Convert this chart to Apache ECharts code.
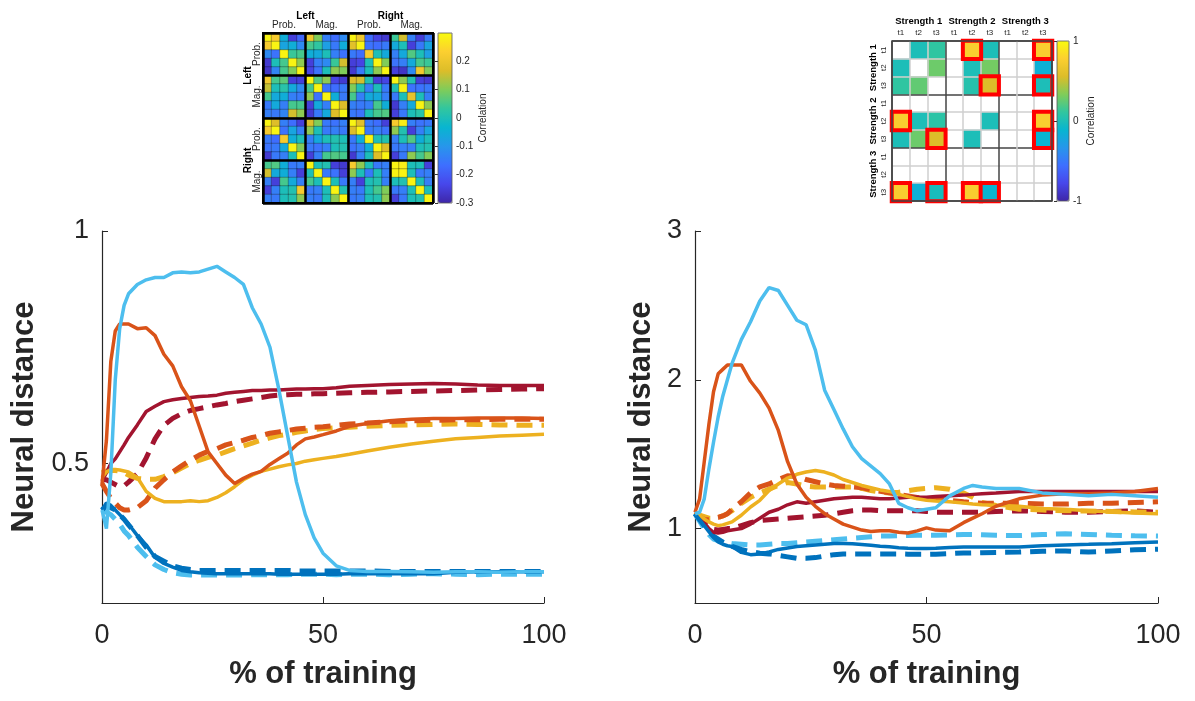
<!DOCTYPE html>
<html>
<head>
<meta charset="utf-8">
<title>Neural distance</title>
<script src="https://cdn.jsdelivr.net/npm/echarts@6/dist/echarts.min.js"></script>
<style>
html,body{margin:0;padding:0;background:#fff;}
#main{width:1195px;height:701px;}
</style>
</head>
<body>
<div id="main"></div>
<script>
// ---------- data ----------
// left curve panel (x = % of training)
var xsLeft = [0,1,2,3,4,5,6, 8,10,12,14,16,18,20,22,24,26,28,30,32,34,36,38,40,42,44,46,48,50, 53,56,60,65,70,75,80,85,90,95,100];
var lbSolidL = [0.40,0.36,0.48,0.68,0.79,0.84,0.865, 0.885,0.895,0.90,0.90,0.91,0.912,0.91,0.912,0.918,0.924,0.912,0.90,0.885,0.835,0.80,0.75,0.66,0.56,0.46,0.39,0.34,0.307, 0.28,0.27,0.268,0.268,0.267,0.266,0.267,0.267,0.266,0.267,0.267];
var lbDashL = [0.40,0.395,0.39,0.38,0.37,0.355,0.345, 0.32,0.30,0.282,0.272,0.265,0.262,0.26,0.26,0.26,0.26,0.26,0.26,0.26,0.261,0.261,0.261,0.261,0.261,0.262,0.262,0.262,0.262, 0.261,0.262,0.262,0.261,0.262,0.263,0.262,0.261,0.262,0.262,0.262];
var dbSolidL = [0.40,0.415,0.41,0.40,0.39,0.38,0.37, 0.345,0.325,0.298,0.285,0.277,0.27,0.267,0.265,0.264,0.263,0.263,0.263,0.263,0.263,0.263,0.263,0.262,0.262,0.262,0.262,0.262,0.262, 0.262,0.263,0.263,0.263,0.263,0.263,0.266,0.267,0.267,0.267,0.267];
var dbDashL = [0.40,0.41,0.405,0.40,0.39,0.38,0.368, 0.345,0.32,0.30,0.29,0.28,0.275,0.272,0.27,0.27,0.27,0.27,0.27,0.27,0.27,0.27,0.27,0.27,0.27,0.269,0.269,0.269,0.269, 0.269,0.269,0.269,0.268,0.268,0.268,0.268,0.268,0.268,0.268,0.268];
var orSolidL = [0.455,0.55,0.72,0.785,0.80,0.80,0.80, 0.79,0.792,0.775,0.735,0.71,0.665,0.635,0.58,0.525,0.50,0.475,0.457,0.468,0.477,0.483,0.498,0.51,0.522,0.54,0.553,0.557,0.562, 0.57,0.58,0.586,0.592,0.595,0.597,0.597,0.598,0.598,0.598,0.597];
var orDashL = [0.457,0.44,0.425,0.415,0.405,0.40,0.40, 0.405,0.42,0.447,0.465,0.482,0.495,0.507,0.518,0.526,0.532,0.54,0.545,0.55,0.556,0.56,0.565,0.568,0.571,0.574,0.576,0.578,0.579, 0.582,0.585,0.587,0.59,0.592,0.593,0.594,0.594,0.595,0.595,0.595];
var ylSolidL = [0.47,0.482,0.487,0.487,0.486,0.484,0.482, 0.47,0.44,0.425,0.418,0.418,0.418,0.42,0.418,0.42,0.427,0.437,0.45,0.465,0.475,0.483,0.488,0.493,0.497,0.50,0.505,0.508,0.511, 0.515,0.52,0.527,0.535,0.542,0.548,0.553,0.556,0.559,0.561,0.563];
var ylDashL = [0.48,0.484,0.485,0.485,0.484,0.48,0.475, 0.468,0.466,0.466,0.472,0.48,0.49,0.50,0.507,0.513,0.518,0.525,0.532,0.538,0.544,0.55,0.555,0.56,0.563,0.567,0.57,0.573,0.575, 0.577,0.578,0.58,0.582,0.583,0.584,0.585,0.584,0.583,0.582,0.582];
var drSolidL = [0.462,0.48,0.50,0.51,0.525,0.54,0.556, 0.583,0.612,0.623,0.633,0.637,0.64,0.642,0.644,0.645,0.647,0.651,0.653,0.655,0.657,0.657,0.658,0.658,0.659,0.66,0.66,0.661,0.661, 0.663,0.666,0.668,0.67,0.671,0.672,0.671,0.669,0.668,0.668,0.668];
var drDashL = [0.465,0.465,0.46,0.455,0.45,0.452,0.46, 0.478,0.512,0.553,0.582,0.597,0.607,0.614,0.618,0.622,0.626,0.629,0.633,0.636,0.639,0.642,0.645,0.647,0.648,0.649,0.649,0.65,0.65, 0.651,0.652,0.653,0.654,0.655,0.656,0.657,0.658,0.659,0.66,0.661];

// right curve panel
var xsRight = [0,1,2,3,4,5,6,7,8, 10,12,14,16,18,20,22,24,26,28,30,32,34,36,38,40,42,44,46,48,50,52, 55,58,60,62,65,70,75,80,85,90,95,100];
var lbSolidR = [1.10,1.11,1.20,1.40,1.58,1.75,1.89,2.00,2.11, 2.27,2.39,2.53,2.62,2.60,2.50,2.40,2.37,2.20,1.93,1.80,1.67,1.55,1.47,1.42,1.37,1.30,1.17,1.14,1.12,1.13,1.14, 1.22,1.27,1.29,1.28,1.27,1.27,1.24,1.23,1.22,1.23,1.22,1.21];
var lbDashR = [1.10,1.05,1.0,0.96,0.93,0.92,0.91,0.905,0.90, 0.895,0.89,0.89,0.895,0.90,0.90,0.905,0.91,0.915,0.92,0.925,0.93,0.935,0.94,0.945,0.95,0.95,0.952,0.953,0.955,0.955,0.955, 0.957,0.96,0.96,0.958,0.955,0.953,0.96,0.965,0.96,0.955,0.952,0.95];
var dbSolidR = [1.10,1.06,1.02,0.98,0.94,0.91,0.895,0.885,0.88, 0.84,0.825,0.83,0.843,0.86,0.87,0.88,0.885,0.89,0.895,0.90,0.90,0.898,0.893,0.888,0.882,0.878,0.872,0.868,0.866,0.866,0.868, 0.873,0.876,0.877,0.877,0.877,0.877,0.885,0.89,0.894,0.899,0.905,0.91];
var dbDashR = [1.10,1.06,1.02,0.98,0.95,0.93,0.91,0.895,0.88, 0.86,0.845,0.835,0.83,0.82,0.81,0.80,0.80,0.805,0.815,0.825,0.83,0.83,0.83,0.83,0.83,0.83,0.83,0.828,0.827,0.827,0.828, 0.832,0.836,0.837,0.838,0.84,0.842,0.848,0.85,0.842,0.85,0.858,0.862];
var orSolidR = [1.11,1.20,1.45,1.70,1.92,2.04,2.07,2.10,2.10, 2.10,1.99,1.91,1.81,1.66,1.45,1.30,1.21,1.15,1.10,1.065,1.03,1.01,0.99,0.98,0.985,0.985,0.975,0.97,0.985,1.005,0.99, 0.985,1.04,1.07,1.10,1.15,1.20,1.225,1.235,1.235,1.24,1.25,1.27];
var orDashR = [1.10,1.08,1.06,1.06,1.07,1.075,1.085,1.10,1.13, 1.18,1.24,1.28,1.30,1.33,1.355,1.35,1.33,1.315,1.30,1.29,1.285,1.28,1.275,1.26,1.25,1.24,1.23,1.22,1.21,1.20,1.195, 1.19,1.18,1.175,1.17,1.17,1.17,1.165,1.165,1.17,1.17,1.175,1.18];
var ylSolidR = [1.11,1.09,1.065,1.045,1.03,1.02,1.025,1.035,1.045, 1.09,1.145,1.19,1.255,1.30,1.34,1.365,1.38,1.39,1.38,1.36,1.33,1.31,1.29,1.275,1.26,1.25,1.23,1.215,1.20,1.19,1.185, 1.18,1.172,1.165,1.16,1.157,1.15,1.135,1.13,1.12,1.112,1.105,1.10];
var ylDashR = [1.10,1.09,1.08,1.07,1.07,1.075,1.085,1.10,1.12, 1.17,1.21,1.24,1.265,1.29,1.31,1.30,1.285,1.28,1.28,1.28,1.28,1.28,1.27,1.255,1.245,1.24,1.245,1.255,1.265,1.27,1.275, 1.265,1.24,1.21,1.175,1.155,1.13,1.125,1.12,1.118,1.115,1.112,1.11];
var drSolidR = [1.11,1.08,1.04,1.00,0.975,0.97,0.975,0.985,0.99, 1.00,1.03,1.07,1.11,1.13,1.16,1.18,1.17,1.18,1.19,1.20,1.205,1.21,1.21,1.205,1.20,1.20,1.205,1.21,1.21,1.21,1.215, 1.22,1.225,1.23,1.235,1.24,1.25,1.25,1.25,1.25,1.25,1.25,1.25];
var drDashR = [1.10,1.07,1.04,1.01,0.995,0.99,0.995,1.0,1.0, 1.02,1.04,1.055,1.06,1.065,1.07,1.075,1.08,1.085,1.09,1.10,1.11,1.12,1.125,1.125,1.12,1.12,1.12,1.12,1.12,1.115,1.11, 1.11,1.11,1.11,1.11,1.115,1.12,1.115,1.11,1.11,1.115,1.12,1.11];

// left correlation matrix (Left/Right x Prob./Mag., 5 units each)
var corrMatrix = [
  [0.29,0.22,-0.05,-0.25,-0.18, 0.21,0.10,-0.14,-0.17,-0.12, 0.29,0.21,-0.17,-0.24,-0.26, 0.04,0.16,-0.14,-0.25,-0.15],
  [0.22,0.29,-0.07,-0.05,-0.12, 0.05,0.03,-0.08,-0.15,-0.05, 0.18,0.29,-0.16,-0.17,-0.15, -0.06,0.0,-0.25,-0.15,-0.07],
  [-0.12,-0.16,0.29,0.04,0.05, -0.05,-0.06,0.0,-0.14,-0.16, -0.15,-0.17,0.22,0.0,-0.06, -0.14,-0.06,0.06,0.0,-0.08],
  [-0.26,0.0,0.05,0.29,0.11, -0.25,-0.14,-0.12,0.04,0.16, -0.25,-0.24,0.0,0.29,0.10, -0.16,-0.14,-0.06,0.05,0.04],
  [-0.27,-0.13,0.05,0.10,0.29, -0.24,-0.16,0.0,0.11,0.10, -0.26,-0.15,0.0,0.11,0.29, -0.25,-0.27,-0.12,0.21,0.10],
  [0.21,0.05,0.07,-0.25,-0.25, 0.29,0.06,0.11,-0.24,-0.26, 0.17,0.16,0.01,-0.25,-0.24, 0.29,0.11,0.01,-0.25,-0.26],
  [0.15,0.0,0.02,-0.06,-0.12, 0.05,0.29,-0.16,-0.17,-0.15, 0.10,0.01,-0.14,0.0,-0.15, 0.01,0.29,-0.16,-0.16,-0.15],
  [0.05,-0.06,-0.05,-0.14,-0.15, 0.11,-0.16,0.29,-0.05,-0.15, 0.05,-0.14,-0.06,-0.06,-0.14, -0.15,0.0,0.19,0.0,-0.14],
  [-0.15,-0.06,-0.14,0.05,0.05, -0.25,-0.06,-0.14,0.29,0.17, -0.14,-0.15,-0.14,0.05,-0.05, -0.26,-0.14,-0.06,0.29,0.11],
  [-0.14,-0.15,-0.13,0.16,0.11, -0.26,-0.15,-0.06,0.17,0.29, -0.15,-0.16,0.0,0.05,0.06, -0.25,-0.15,0.0,0.02,0.29],
  [0.29,0.17,-0.14,-0.17,-0.25, 0.17,0.10,-0.15,-0.16,-0.14, 0.29,0.18,-0.15,-0.17,-0.25, 0.22,0.28,-0.14,-0.16,-0.15],
  [0.22,0.29,-0.16,-0.07,-0.14, 0.11,0.0,-0.15,-0.14,-0.15, 0.17,0.29,-0.15,-0.14,-0.16, 0.11,0.01,-0.25,-0.14,-0.07],
  [-0.15,-0.17,0.22,-0.05,0.0, -0.14,-0.06,0.0,0.01,0.0, -0.15,-0.05,0.29,0.0,0.01, -0.14,0.0,0.06,-0.05,0.0],
  [-0.16,-0.15,-0.06,0.29,0.10, -0.15,-0.16,-0.14,0.0,0.01, -0.16,-0.14,-0.05,0.29,0.17, -0.15,-0.14,-0.14,0.0,0.01],
  [-0.26,-0.15,-0.14,0.0,0.29, -0.25,-0.14,0.05,0.06,0.05, -0.26,-0.14,0.0,0.17,0.29, -0.25,-0.15,0.11,0.05,0.10],
  [0.05,0.06,-0.05,-0.15,-0.14, 0.29,0.0,0.01,-0.25,-0.26, 0.22,0.11,0.0,-0.15,-0.14, 0.29,0.28,0.0,0.0,-0.25],
  [0.16,-0.06,-0.05,-0.14,-0.25, 0.0,0.29,-0.15,-0.16,-0.25, 0.11,0.0,-0.15,0.0,-0.14, 0.29,0.29,0.0,-0.15,-0.14],
  [-0.14,-0.25,0.05,-0.06,-0.14, 0.05,0.0,0.29,0.0,-0.15, -0.14,-0.25,0.0,0.01,-0.14, 0.0,0.01,0.29,0.0,-0.14],
  [-0.25,-0.14,0.0,0.01,0.22, -0.15,-0.14,0.0,0.29,0.01, -0.14,-0.15,0.0,0.05,0.10, -0.15,-0.14,0.0,0.29,0.0],
  [-0.14,-0.15,0.0,0.01,0.11, -0.14,-0.15,0.0,0.11,0.29, -0.15,-0.14,0.0,0.01,0.11, -0.25,-0.15,0.0,0.01,0.29]
];
var corrCats = ['1','2','3','4','5','6','7','8','9','10','11','12','13','14','15','16','17','18','19','20'];
var corrTicks = [-0.3, -0.2, -0.1, 0, 0.1, 0.2];

// right correlation matrix (Strength 1-3 x t1-t3), null = not shown
var strengthMatrix = [
  [null, 0.0, 0.1, null, 0.76, 0.0, null, null, 0.76],
  [0.0, null, 0.28, null, 0.0, 0.3, null, null, -0.15],
  [0.1, 0.25, null, null, 0.05, 0.56, null, null, 0.0],
  [null, null, null, null, null, null, null, null, null],
  [0.76, 0.0, 0.08, null, null, 0.0, null, null, 0.76],
  [0.0, 0.28, 0.56, null, 0.0, null, null, null, -0.12],
  [null, null, null, null, null, null, null, null, null],
  [null, null, null, null, null, null, null, null, null],
  [0.76, -0.15, -0.02, null, 0.76, -0.12, null, null, null]
];
// highlighted cells [row, col]
var strengthBoxes = [[0,4],[0,8],[2,5],[2,8],[4,0],[4,8],[5,2],[5,8],[8,0],[8,2],[8,4],[8,5]];
var tCats = ['t1','t2','t3','t1','t2','t3','t1','t2','t3'];
var strengthTicks = [-1, 0, 1];

var parula = ['#3E26A8','#4747EB','#3E6FFF','#2796EB','#08B5D0','#31C69F','#80CC59','#DCBD29','#FCCF30','#F9FB0E'];

// ---------- build ----------
var FONT = "'Liberation Sans', Arial, Helvetica, sans-serif";
var TXT = '#262626';
var C_LB = '#4DBEEE', C_DB = '#0072BD', C_OR = '#D95319', C_YL = '#EDB120', C_DR = '#A2142F';

function pairs(xs, ys) {
    return xs.map(function(x, i) { return [x, ys[i]]; });
}

var corrData = [];
corrMatrix.forEach(function(row, r) {
    row.forEach(function(v, c) { corrData.push([c, r, v]); });
});
var strengthData = [];
strengthMatrix.forEach(function(row, r) {
    row.forEach(function(v, c) { if (v !== null) strengthData.push([c, r, v]); });
});
var boxData = strengthBoxes.map(function(b) { return [b[1], b[0], strengthMatrix[b[0]][b[1]]]; });

function curve(name, xs, ys, color, dashed, g) {
    return {
        name: name, type: 'line', xAxisIndex: g, yAxisIndex: g,
        data: pairs(xs, ys), showSymbol: false, symbol: 'none', smooth: false,
        silent: true, animation: false,
        lineStyle: dashed ? {color: color, width: 5, type: [16, 9], cap: 'butt'}
                          : {color: color, width: 3.5},
        z: dashed ? 3 : 4
    };
}

function curveX(g) {
    return {
        gridIndex: g, type: 'value', min: 0, max: 100, interval: 50,
        axisLine: {lineStyle: {color: TXT, width: 1.2}},
        axisTick: {inside: true, length: 6, lineStyle: {color: TXT}},
        axisLabel: {fontSize: 27, color: TXT, fontFamily: FONT, margin: 19},
        splitLine: {show: false},
        name: '% of training', nameLocation: 'middle', nameGap: 56,
        nameTextStyle: {fontSize: 31, fontWeight: 'bold', color: TXT, fontFamily: FONT}
    };
}
function curveY(g, min, max, ticks, gap) {
    return {
        gridIndex: g, type: 'value', min: min, max: max,
        axisLine: {show: true, lineStyle: {color: TXT, width: 1.2}},
        axisTick: {show: true, inside: true, length: 6, customValues: ticks, lineStyle: {color: TXT}},
        axisLabel: {fontSize: 27, color: TXT, fontFamily: FONT, margin: 13, customValues: ticks},
        splitLine: {show: false},
        name: 'Neural distance', nameLocation: 'middle', nameGap: gap, nameRotate: 90,
        nameTextStyle: {fontSize: 31, fontWeight: 'bold', color: TXT, fontFamily: FONT}
    };
}

var myChart = echarts.init(document.getElementById('main'));

var option = {
    backgroundColor: '#fff',
    animation: false,
    textStyle: {fontFamily: FONT},
    grid: [
        {left: 263, top: 33, width: 170, height: 170, show: true, borderColor: '#000', borderWidth: 2, z: 10},
        {left: 892, top: 41, width: 160, height: 160, show: true, borderColor: '#444', borderWidth: 1.5, z: 10},
        {left: 438, top: 33, width: 14, height: 170, show: true, borderColor: '#555', borderWidth: 0.8, z: 10},
        {left: 1057, top: 41, width: 12, height: 160, show: true, borderColor: '#555', borderWidth: 0.8, z: 10},
        {left: 102, top: 231, width: 442, height: 372},
        {left: 695, top: 231, width: 463, height: 372}
    ],
    xAxis: [
        {gridIndex: 0, type: 'category', data: corrCats, z: 5,
         axisLine: {show: false}, axisTick: {show: false}, axisLabel: {show: false},
         splitLine: {show: true, interval: function(i) { return i % 5 === 0; }, lineStyle: {color: '#000', width: 2.5}}},
        {gridIndex: 1, type: 'category', data: tCats, position: 'top', z: 3,
         axisLine: {show: false}, axisTick: {show: false},
         axisLabel: {interval: 0, fontSize: 8, color: TXT, margin: 4},
         splitLine: {show: true, interval: 0, lineStyle: {color: ['#444', '#cfcfcf', '#cfcfcf'], width: 1.5}}},
        {gridIndex: 2, type: 'value', show: false, min: 0, max: 1},
        {gridIndex: 3, type: 'value', show: false, min: 0, max: 1},
        curveX(4),
        curveX(5)
    ],
    yAxis: [
        {gridIndex: 0, type: 'category', data: corrCats, inverse: true, z: 5,
         axisLine: {show: false}, axisTick: {show: false}, axisLabel: {show: false},
         splitLine: {show: true, interval: function(i) { return i % 5 === 0; }, lineStyle: {color: '#000', width: 2.5}}},
        {gridIndex: 1, type: 'category', data: tCats, inverse: true, z: 3,
         axisLine: {show: false}, axisTick: {show: false},
         axisLabel: {interval: 0, fontSize: 8, color: TXT, margin: 4, rotate: 90},
         splitLine: {show: true, interval: 0, lineStyle: {color: ['#444', '#cfcfcf', '#cfcfcf'], width: 1.5}}},
        {gridIndex: 2, type: 'value', min: -0.3, max: 0.3, position: 'right',
         axisLine: {show: false},
         axisTick: {show: true, inside: true, length: 3, customValues: corrTicks, lineStyle: {color: '#333'}},
         axisLabel: {fontSize: 10, color: TXT, margin: 4, customValues: corrTicks},
         splitLine: {show: false},
         name: 'Correlation', nameLocation: 'middle', nameRotate: 90, nameGap: 26,
         nameTextStyle: {fontSize: 10, color: TXT}},
        {gridIndex: 3, type: 'value', min: -1, max: 1, position: 'right',
         axisLine: {show: false},
         axisTick: {show: true, inside: true, length: 3, customValues: strengthTicks, lineStyle: {color: '#333'}},
         axisLabel: {fontSize: 10, color: TXT, margin: 4, customValues: strengthTicks},
         splitLine: {show: false},
         name: 'Correlation', nameLocation: 'middle', nameRotate: 90, nameGap: 16,
         nameTextStyle: {fontSize: 10, color: TXT}},
        curveY(4, 0.2, 1, [0.5, 1], 62),
        curveY(5, 0.5, 3, [1, 2, 3], 38)
    ],
    visualMap: [
        {type: 'continuous', seriesIndex: 0, min: -0.3, max: 0.3, calculable: false,
         orient: 'vertical', left: 438, top: 33, itemWidth: 14, itemHeight: 170, padding: 0,
         inRange: {color: parula}, hoverLink: false},
        {type: 'continuous', seriesIndex: [1, 2], min: -1, max: 1, calculable: false,
         orient: 'vertical', left: 1057, top: 41, itemWidth: 12, itemHeight: 160, padding: 0,
         inRange: {color: parula}, hoverLink: false}
    ],
    graphic: [
        {type: 'text', x: 305.5, y: 16, style: {text: 'Left', font: 'bold 10px ' + FONT, fill: '#000', align: 'center', verticalAlign: 'middle'}},
        {type: 'text', x: 390.5, y: 16, style: {text: 'Right', font: 'bold 10px ' + FONT, fill: '#000', align: 'center', verticalAlign: 'middle'}},
        {type: 'text', x: 284, y: 25.5, style: {text: 'Prob.', font: '10px ' + FONT, fill: TXT, align: 'center', verticalAlign: 'middle'}},
        {type: 'text', x: 326.5, y: 25.5, style: {text: 'Mag.', font: '10px ' + FONT, fill: TXT, align: 'center', verticalAlign: 'middle'}},
        {type: 'text', x: 369, y: 25.5, style: {text: 'Prob.', font: '10px ' + FONT, fill: TXT, align: 'center', verticalAlign: 'middle'}},
        {type: 'text', x: 411.5, y: 25.5, style: {text: 'Mag.', font: '10px ' + FONT, fill: TXT, align: 'center', verticalAlign: 'middle'}},
        {type: 'text', x: 248, y: 75.5, rotation: Math.PI / 2, style: {text: 'Left', font: 'bold 10px ' + FONT, fill: '#000', align: 'center', verticalAlign: 'middle'}},
        {type: 'text', x: 248, y: 160.5, rotation: Math.PI / 2, style: {text: 'Right', font: 'bold 10px ' + FONT, fill: '#000', align: 'center', verticalAlign: 'middle'}},
        {type: 'text', x: 257, y: 54, rotation: Math.PI / 2, style: {text: 'Prob.', font: '10px ' + FONT, fill: TXT, align: 'center', verticalAlign: 'middle'}},
        {type: 'text', x: 257, y: 96.5, rotation: Math.PI / 2, style: {text: 'Mag.', font: '10px ' + FONT, fill: TXT, align: 'center', verticalAlign: 'middle'}},
        {type: 'text', x: 257, y: 139, rotation: Math.PI / 2, style: {text: 'Prob.', font: '10px ' + FONT, fill: TXT, align: 'center', verticalAlign: 'middle'}},
        {type: 'text', x: 257, y: 181.5, rotation: Math.PI / 2, style: {text: 'Mag.', font: '10px ' + FONT, fill: TXT, align: 'center', verticalAlign: 'middle'}},
        {type: 'text', x: 918.7, y: 21, style: {text: 'Strength 1', font: 'bold 9.5px ' + FONT, fill: '#000', align: 'center', verticalAlign: 'middle'}},
        {type: 'text', x: 972, y: 21, style: {text: 'Strength 2', font: 'bold 9.5px ' + FONT, fill: '#000', align: 'center', verticalAlign: 'middle'}},
        {type: 'text', x: 1025.3, y: 21, style: {text: 'Strength 3', font: 'bold 9.5px ' + FONT, fill: '#000', align: 'center', verticalAlign: 'middle'}},
        {type: 'text', x: 873, y: 67.7, rotation: Math.PI / 2, style: {text: 'Strength 1', font: 'bold 9.5px ' + FONT, fill: '#000', align: 'center', verticalAlign: 'middle'}},
        {type: 'text', x: 873, y: 121, rotation: Math.PI / 2, style: {text: 'Strength 2', font: 'bold 9.5px ' + FONT, fill: '#000', align: 'center', verticalAlign: 'middle'}},
        {type: 'text', x: 873, y: 174.3, rotation: Math.PI / 2, style: {text: 'Strength 3', font: 'bold 9.5px ' + FONT, fill: '#000', align: 'center', verticalAlign: 'middle'}}
    ],
    series: [
        {type: 'heatmap', xAxisIndex: 0, yAxisIndex: 0, data: corrData, z: 1,
         itemStyle: {borderColor: 'rgba(0,0,0,0.4)', borderWidth: 0.7}},
        {type: 'heatmap', xAxisIndex: 1, yAxisIndex: 1, data: strengthData, z: 1},
        {type: 'heatmap', xAxisIndex: 1, yAxisIndex: 1, data: boxData, z: 6,
         itemStyle: {borderColor: '#ff0000', borderWidth: 4}},
        {type: 'line', xAxisIndex: 2, yAxisIndex: 2, data: []},
        {type: 'line', xAxisIndex: 3, yAxisIndex: 3, data: []},

        curve('dr dashed', xsLeft, drDashL, C_DR, true, 4),
        curve('dr', xsLeft, drSolidL, C_DR, false, 4),
        curve('yl dashed', xsLeft, ylDashL, C_YL, true, 4),
        curve('yl', xsLeft, ylSolidL, C_YL, false, 4),
        curve('or dashed', xsLeft, orDashL, C_OR, true, 4),
        curve('or', xsLeft, orSolidL, C_OR, false, 4),
        curve('lb dashed', xsLeft, lbDashL, C_LB, true, 4),
        curve('db dashed', xsLeft, dbDashL, C_DB, true, 4),
        curve('db', xsLeft, dbSolidL, C_DB, false, 4),
        curve('lb', xsLeft, lbSolidL, C_LB, false, 4),

        curve('dr dashed', xsRight, drDashR, C_DR, true, 5),
        curve('dr', xsRight, drSolidR, C_DR, false, 5),
        curve('yl dashed', xsRight, ylDashR, C_YL, true, 5),
        curve('yl', xsRight, ylSolidR, C_YL, false, 5),
        curve('or dashed', xsRight, orDashR, C_OR, true, 5),
        curve('or', xsRight, orSolidR, C_OR, false, 5),
        curve('lb dashed', xsRight, lbDashR, C_LB, true, 5),
        curve('db dashed', xsRight, dbDashR, C_DB, true, 5),
        curve('db', xsRight, dbSolidR, C_DB, false, 5),
        curve('lb', xsRight, lbSolidR, C_LB, false, 5)
    ]
};

myChart.setOption(option);
</script>
</body>
</html>
